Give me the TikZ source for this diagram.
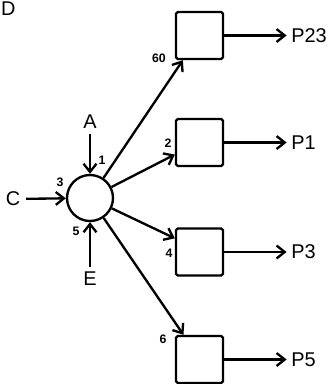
\documentclass[tikz,border=0pt]{standalone}
\usepackage{fontspec}
\setmainfont{Liberation Sans}
\usetikzlibrary{positioning,arrows.meta}

\begin{document}
\begin{tikzpicture}[x=0.03cm,y=-0.03cm,line width=2pt,
		freccia/.style={-{Straight Barb[length=7pt,width=11pt,line width=2pt]}},
		scatola/.style={draw,rounded corners=1.5pt,minimum size=1.41cm,inner sep=0pt},
		nodo/.style={draw,circle,minimum size=1.38cm,inner sep=0pt},
		lettera/.style={font=\fontsize{17}{18}\selectfont,inner sep=1pt},
		numero/.style={font=\bfseries\fontsize{10.5}{11}\selectfont,inner sep=0pt}]
	\useasboundingbox (0,0) rectangle (336,384);
	
	% Nodo centrale e scatole di uscita
	\node[nodo] (miscela) at (90,198) {};
	\node[scatola] (s60) at (199.5,35.5) {};
	\node[scatola] (s2) at (199.5,142.5) {};
	\node[scatola] (s4) at (199.5,252) {};
	\node[scatola] (s6) at (199.5,359.5) {};
	
	% Lettere
	\node[lettera,anchor=west,inner sep=0pt] (D) at (0,9) {D};
	\node[lettera] (A) at (90,122) {A};
	\node[lettera] (C) at (13,199) {C};
	\node[lettera] (E) at (90,279) {E};
	\node[lettera,anchor=west] (P23) at (289,35.5) {P23};
	\node[lettera,anchor=west] (P1) at (289,142.5) {P1};
	\node[lettera,anchor=west] (P3) at (289,252) {P3};
	\node[lettera,anchor=west] (P5) at (289,359.5) {P5};
	
	% Numeri delle porte
	\node[numero] (n1) at (102,160) {1};
	\node[numero] (n3) at (60,182) {3};
	\node[numero] (n5) at (76,231) {5};
	\node[numero] (n60) at (159,58) {60};
	\node[numero] (n2) at (168,143) {2};
	\node[numero] (n4) at (169,253) {4};
	\node[numero] (n6) at (163,339) {6};
	
	% Ingressi al nodo
	\draw[freccia,shorten <=2pt] (A) -- (miscela);
	\draw[freccia,shorten <=3pt] (C) -- (miscela);
	\draw[freccia,shorten <=2pt] (E) -- (miscela);
	
	% Dal nodo alle scatole
	\draw[freccia] (miscela) -- (s60.236);
	\draw[freccia] (miscela) -- (s2.206);
	\draw[freccia] (miscela) -- (s4.151);
	\draw[freccia] (miscela) -- (s6.123);
	
	% Uscite
	\draw[freccia,shorten >=2pt] (s60) -- (P23);
	\draw[freccia,shorten >=2pt] (s2) -- (P1);
	\draw[freccia,shorten >=2pt] (s4) -- (P3);
	\draw[freccia,shorten >=2pt] (s6) -- (P5);
\end{tikzpicture}
\end{document}
